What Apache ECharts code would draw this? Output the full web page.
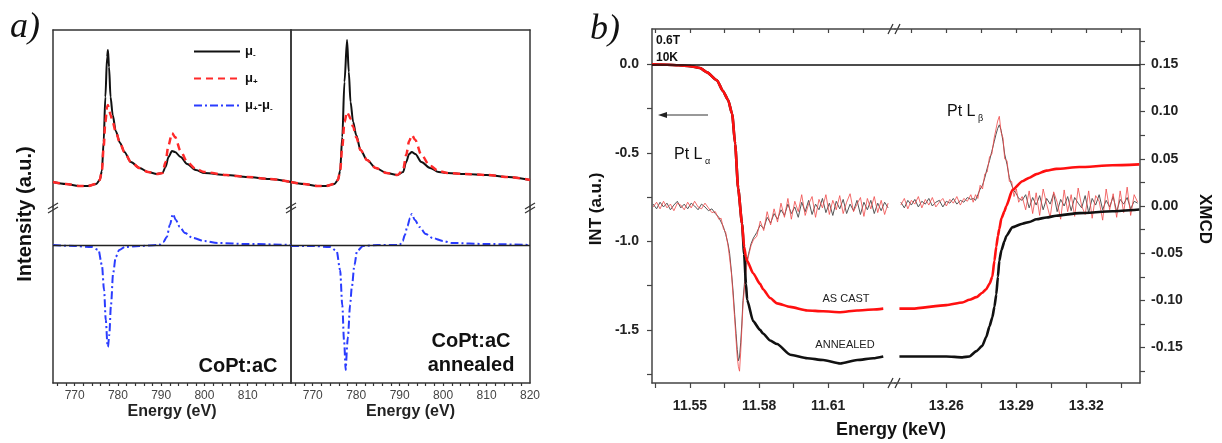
<!DOCTYPE html>
<html><head><meta charset="utf-8">
<script src="https://cdn.jsdelivr.net/npm/echarts@6/dist/echarts.min.js"></script>
<style>html,body{margin:0;padding:0;background:#fff}#c{width:1222px;height:443px}</style>
</head><body><div id="c"></div>
<script>
// ---------- Panel a) data (Co L-edge, intensity a.u.) ----------
const aEnergyL = [765,768,771,773,775,775.8,776.3,776.7,777.1,777.5,777.7,777.95,778.3,778.8,779.5,780.5,781.5,783,785,787,789,790.3,791,791.7,792.5,793.2,794.5,796,798,800,805,810,815,820];
const muMinusL = [0.25,0.23,0.21,0.21,0.23,0.27,0.36,0.65,1.1,1.5,1.57,1.4,1.1,0.92,0.76,0.64,0.55,0.45,0.39,0.35,0.33,0.34,0.4,0.5,0.56,0.55,0.5,0.43,0.37,0.34,0.32,0.3,0.28,0.25];
const muPlusL  = [0.25,0.23,0.21,0.21,0.23,0.27,0.36,0.6,0.85,1.0,1.02,0.98,0.92,0.85,0.75,0.64,0.55,0.45,0.39,0.35,0.33,0.34,0.45,0.62,0.74,0.7,0.56,0.45,0.38,0.35,0.32,0.3,0.28,0.25];
const aEnergyR = [765,768,771,773,775,775.8,776.3,776.8,777.3,777.9,778.3,778.7,779.3,780,781,782.5,784.5,787,789.5,790.8,791.5,792.2,792.8,793.6,795,797,799,801,805,810,815,820];
const muMinusR = [0.25,0.23,0.21,0.21,0.23,0.27,0.36,0.7,1.25,1.67,1.35,1.05,0.85,0.72,0.57,0.47,0.39,0.34,0.32,0.35,0.45,0.53,0.55,0.53,0.45,0.39,0.35,0.34,0.33,0.32,0.3,0.27];
const muPlusR  = [0.25,0.23,0.21,0.21,0.23,0.27,0.36,0.6,0.85,0.95,0.92,0.88,0.8,0.7,0.57,0.47,0.39,0.34,0.32,0.37,0.52,0.66,0.72,0.67,0.52,0.41,0.36,0.34,0.33,0.32,0.3,0.27];
const dEnergyL = [765,770,774,775.5,776.3,776.8,777.2,777.6,777.7,778,778.4,778.9,779.5,780.3,781.6,785,789.5,790.5,791.3,792,792.7,793.4,794.3,795.5,797.3,800,803,810,820];
const diffL    = [0,-0.01,-0.02,-0.05,-0.2,-0.45,-0.75,-1.0,-1.02,-0.9,-0.6,-0.28,-0.12,-0.05,-0.02,-0.01,0,0.03,0.08,0.2,0.31,0.25,0.18,0.12,0.07,0.04,0.02,0.01,0];
const dEnergyR = [765,770,774,775.5,776.3,776.8,777.2,777.6,777.7,778.1,778.6,779,779.6,780.2,781.6,785,790,790.7,791.2,791.8,792.4,792.8,793.5,794.6,796,797.6,800,802,810,820];
const diffR    = [-0.01,-0.01,-0.02,-0.06,-0.25,-0.6,-0.95,-1.25,-1.25,-0.92,-0.6,-0.42,-0.2,-0.06,-0.01,0,0,0.04,0.1,0.19,0.27,0.31,0.25,0.18,0.11,0.07,0.04,0.02,0.01,0];
const aTicks = [766,768,770,772,774,776,778,780,782,784,786,788,790,792,794,796,798,800,802,804,806,808,810,812,814,816,818];
const aLabelsL = [770,780,790,800,810];
const aLabelsR = [770,780,790,800,810,820];

// ---------- Panel b) data (Pt L edges) ----------
const intEnergyL   = [11.5335,11.54,11.545,11.55,11.5543,11.5574,11.5617,11.5643,11.5665,11.5683,11.5696,11.5709,11.5726,11.5735,11.5743,11.5748,11.5774,11.5804,11.5817,11.5848,11.5878,11.5935,11.6009,11.6078,11.6152,11.6226,11.6296,11.6339];
const intAnnealedL = [0,-0.002,-0.005,-0.01,-0.02,-0.045,-0.09,-0.15,-0.2,-0.28,-0.45,-0.7,-0.9,-1.07,-1.24,-1.33,-1.45,-1.5,-1.52,-1.56,-1.58,-1.64,-1.66,-1.67,-1.69,-1.67,-1.66,-1.65];
const intAsCastL   = [0,-0.002,-0.005,-0.01,-0.02,-0.045,-0.09,-0.15,-0.2,-0.28,-0.45,-0.7,-0.9,-1.03,-1.09,-1.11,-1.18,-1.24,-1.27,-1.32,-1.35,-1.37,-1.39,-1.395,-1.4,-1.39,-1.385,-1.38];
const intEnergyR   = [13.2399,13.2454,13.26,13.2669,13.2699,13.2729,13.2754,13.2771,13.2785,13.2797,13.2806,13.2814,13.2821,13.2827,13.2836,13.2849,13.2857,13.2883,13.2926,13.2956,13.2986,13.3029,13.3071,13.317,13.3312,13.3427];
const intAsCastR   = [-1.38,-1.38,-1.36,-1.345,-1.33,-1.315,-1.29,-1.27,-1.24,-1.2,-1.11,-1.03,-0.97,-0.93,-0.87,-0.83,-0.8,-0.71,-0.66,-0.64,-0.62,-0.6,-0.59,-0.58,-0.57,-0.565];
const intAnnealedR = [-1.65,-1.65,-1.65,-1.655,-1.65,-1.62,-1.59,-1.54,-1.48,-1.43,-1.37,-1.3,-1.2,-1.11,-1.05,-1.0,-0.97,-0.92,-0.9,-0.89,-0.875,-0.865,-0.855,-0.84,-0.83,-0.82];

const xmcdEnergyL = [11.534,11.5355,11.537,11.5385,11.54,11.5415,11.543,11.5445,11.546,11.5475,11.549,11.5505,11.552,11.5535,11.555,11.5565,11.558,11.5595,11.561,11.5625,
  11.5635,11.5645,11.5655,11.5665,11.5672,11.568,11.5687,11.5694,11.57,11.5705,11.571,11.5715,11.572,11.5725,11.573,11.5737,11.5745,11.5755,11.5765,11.5775,
  11.579,11.5805,11.582,11.5835,11.585,11.5865,11.588,11.5895,11.591,11.5925,11.594,11.5955,11.597,11.5985,11.6,11.6015,11.603,11.6045,11.606,11.6075,11.609,11.6105,11.612,11.6135,11.615,11.6165,11.618,11.6195,11.621,11.6225,11.624,11.6255,11.627,11.6285,11.63,11.6315,11.633,11.6345,11.636];
const xmcdAnnealedL = [0.002,-0.003,0.004,-0.001,0.003,-0.004,0.001,0.005,-0.002,0.002,-0.003,0.003,0.000,-0.004,0.002,-0.001,-0.005,-0.003,-0.008,-0.012,
  -0.017,-0.022,-0.03,-0.04,-0.05,-0.07,-0.09,-0.115,-0.135,-0.152,-0.164,-0.16,-0.145,-0.125,-0.1,-0.08,-0.06,-0.05,-0.04,-0.034,
  -0.028,-0.02,-0.024,-0.012,-0.018,-0.008,-0.014,-0.004,-0.01,0.002,-0.008,-0.001,-0.012,0.004,-0.006,0.006,-0.009,0.002,-0.004,0.008,-0.007,0.003,-0.01,0.005,-0.003,0.007,-0.008,0.002,-0.005,0.006,-0.009,0.004,-0.004,0.006,-0.008,0.003,-0.005,0.004,-0.002];
const xmcdAsCastL = [-0.001,0.004,-0.003,0.005,-0.002,0.002,-0.005,0.003,0.001,-0.004,0.004,-0.002,0.005,-0.001,-0.003,0.003,-0.002,-0.007,-0.006,-0.014,
  -0.013,-0.024,-0.028,-0.042,-0.055,-0.072,-0.095,-0.12,-0.142,-0.16,-0.17,-0.175,-0.155,-0.13,-0.105,-0.085,-0.065,-0.052,-0.042,-0.036,
  -0.032,-0.016,-0.026,-0.006,-0.02,-0.003,-0.017,0.003,-0.012,0.008,-0.014,0.005,-0.006,0.012,-0.01,0.002,0.01,-0.012,0.007,-0.002,0.012,-0.009,0.006,-0.004,0.011,-0.008,0.004,0.013,-0.006,0.002,0.009,-0.011,0.008,-0.003,0.01,-0.007,0.006,-0.009,0.003];
const xmcdEnergyR = [13.2405,13.242,13.2435,13.245,13.2465,13.248,13.2495,13.251,13.2525,13.254,13.2555,13.257,13.2585,13.26,13.2615,13.263,13.2645,13.266,13.2675,13.269,13.2705,
  13.2715,13.2725,13.2735,13.2745,13.2755,13.2765,13.2775,13.2785,13.2795,13.2805,13.2813,13.282,13.2827,13.2835,13.2843,13.285,13.286,13.287,13.288,13.289,13.29,13.291,
  13.2925,13.294,13.2955,13.297,13.2985,13.3,13.3015,13.303,13.3045,13.306,13.3075,13.309,13.3105,13.312,13.3135,13.315,13.3165,13.318,13.3195,13.321,13.3225,13.324,13.3255,13.327,13.3285,13.33,13.3315,13.333,13.3345,13.336,13.3375,13.339,13.3405,13.342];
const xmcdAnnealedR = [0.004,-0.002,0.006,0.001,0.007,-0.001,0.005,0.002,0.008,0.000,0.004,0.006,-0.001,0.005,0.003,0.008,0.002,0.006,0.004,0.009,0.007,
  0.008,0.006,0.012,0.018,0.022,0.03,0.04,0.048,0.058,0.068,0.076,0.082,0.086,0.08,0.068,0.055,0.044,0.03,0.022,0.016,0.013,0.008,
  0.006,0.012,-0.002,0.009,0.001,0.011,-0.004,0.008,0.002,0.013,-0.006,0.007,0.000,0.01,-0.005,0.009,0.003,-0.002,0.011,-0.007,0.008,0.001,0.012,-0.004,0.006,-0.001,0.01,-0.006,0.007,0.002,0.009,-0.003,0.005,0.003];
const xmcdAsCastR = [0.001,0.008,-0.003,0.006,0.002,0.01,-0.002,0.007,0.001,0.009,-0.001,0.004,0.008,0.000,0.007,0.003,0.01,0.001,0.008,0.005,0.012,
  0.004,0.012,0.008,0.022,0.018,0.034,0.036,0.052,0.055,0.072,0.074,0.09,0.095,0.078,0.072,0.05,0.048,0.026,0.026,0.01,0.018,0.004,
  0.01,-0.004,0.016,-0.008,0.014,-0.01,0.018,0.002,-0.012,0.015,0.004,-0.014,0.017,-0.006,0.012,-0.011,0.019,0.000,-0.009,0.016,-0.013,0.011,0.005,-0.015,0.018,-0.004,0.013,-0.012,0.016,-0.007,0.02,-0.01,0.012,0.004];

const bTicksL = [11.535,11.55,11.565,11.58,11.595,11.61,11.625];
const bLabelsL = [11.55,11.58,11.61];
const bTicksR = [13.245,13.26,13.275,13.29,13.305,13.32,13.335];
const bLabelsR = [13.26,13.29,13.32];
const intTicks = [0,-0.25,-0.5,-0.75,-1,-1.25,-1.5,-1.75];
const intLabels = [0,-0.5,-1,-1.5];
const xmcdTicks = [0.175,0.15,0.125,0.1,0.075,0.05,0.025,0,-0.025,-0.05,-0.075,-0.1,-0.125,-0.15,-0.175];
const xmcdLabels = [0.15,0.1,0.05,0,-0.05,-0.1,-0.15];

// ---------- build ----------
const FF = '"Liberation Sans", Arial, sans-serif';
const pairs = (xs, ys) => xs.map((x, i) => [x, ys[i]]);
const frameA = {show: true, onZero: false, lineStyle: {color: '#333', width: 1.5}};
const frameB = {show: true, onZero: false, lineStyle: {color: '#444', width: 1.5}};
const none = {show: false};

const grids = [
  {left: 53, top: 30, width: 238, height: 177},
  {left: 53, top: 207, width: 238, height: 176},
  {left: 291, top: 30, width: 239, height: 177},
  {left: 291, top: 207, width: 239, height: 176},
  {left: 652, top: 29, width: 243, height: 354},
  {left: 895, top: 29, width: 245, height: 354}
];

function aTopX(gi) {
  return {gridIndex: gi, type: 'value', min: 765, max: 820, position: 'top', axisLine: frameA, axisTick: none, axisLabel: none, splitLine: none};
}
function aBotX(gi, labels) {
  return {gridIndex: gi, type: 'value', min: 765, max: 820, position: 'bottom', axisLine: frameA,
    axisTick: {show: true, customValues: aTicks, length: 3, lineStyle: {color: '#333', width: 1.2}},
    axisLabel: {customValues: labels, fontSize: 12, color: '#444', margin: 7, fontFamily: FF},
    splitLine: none, name: 'Energy (eV)', nameLocation: 'middle', nameGap: 21,
    nameTextStyle: {fontWeight: 'bold', fontSize: 16, color: '#222', fontFamily: FF}};
}
function yFrame(gi, min, max, pos) {
  return {gridIndex: gi, type: 'value', min: min, max: max, position: pos, axisLine: frameA, axisTick: none, axisLabel: none, splitLine: none};
}
function bX(gi, min, max, pos, ticks, labels) {
  const o = {gridIndex: gi, type: 'value', min: min, max: max, position: pos, axisLine: frameB, splitLine: none,
    axisTick: {show: true, customValues: ticks, length: pos === 'top' ? 4 : 5, inside: pos === 'top', lineStyle: {color: '#444', width: 1.2}}};
  if (pos === 'top') o.axisLabel = {show: false, customValues: ticks};
  else o.axisLabel = {customValues: labels, formatter: v => v.toFixed(2), fontWeight: 'bold', fontSize: 14, color: '#222', margin: 16, fontFamily: FF};
  return o;
}

const xAxes = [
  aTopX(0), aBotX(1, aLabelsL), aTopX(2), aBotX(3, aLabelsR),
  bX(4, 11.5335, 11.639, 'bottom', bTicksL, bLabelsL),
  bX(4, 11.5335, 11.639, 'top', bTicksL, null),
  bX(5, 13.238, 13.343, 'bottom', bTicksR, bLabelsR),
  bX(5, 13.238, 13.343, 'top', bTicksR, null)
];
const yAxes = [
  yFrame(0, 0, 1.77, 'left'), yFrame(0, 0, 1.77, 'right'),
  yFrame(1, -1.38, 0.38, 'left'), yFrame(1, -1.38, 0.38, 'right'),
  yFrame(2, 0, 1.77, 'left'), yFrame(2, 0, 1.77, 'right'),
  yFrame(3, -1.38, 0.38, 'left'), yFrame(3, -1.38, 0.38, 'right'),
  {gridIndex: 4, type: 'value', min: -1.8, max: 0.2, position: 'left', axisLine: frameB, splitLine: none,
    axisTick: {show: true, customValues: intTicks, length: 5, lineStyle: {color: '#444', width: 1.2}},
    axisLabel: {customValues: intLabels, formatter: v => v.toFixed(1), fontWeight: 'bold', fontSize: 14, color: '#222', margin: 13, fontFamily: FF}},
  {gridIndex: 4, type: 'value', min: -0.1875, max: 0.1875, position: 'right', show: false},
  {gridIndex: 5, type: 'value', min: -1.8, max: 0.2, position: 'left', show: false},
  {gridIndex: 5, type: 'value', min: -0.1875, max: 0.1875, position: 'right', axisLine: frameB, splitLine: none,
    axisTick: {show: true, customValues: xmcdTicks, length: 5, lineStyle: {color: '#444', width: 1.2}},
    axisLabel: {customValues: xmcdLabels, formatter: v => v.toFixed(2), fontWeight: 'bold', fontSize: 14, color: '#222', margin: 11, fontFamily: FF}}
];

const lineBase = {type: 'line', showSymbol: false, symbol: 'none', animation: false, silent: true};
function spec(name, xi, yi, xs, ys, style, smooth) {
  return Object.assign({}, lineBase, {name: name, xAxisIndex: xi, yAxisIndex: yi, data: pairs(xs, ys), smooth: smooth,
    lineStyle: style, itemStyle: {color: style.color}});
}
const blackA = {color: '#111', width: 2};
const redA = {color: '#ff2a2a', width: 2.5, type: [7, 5]};
const blueA = {color: '#2a3cff', width: 2, type: [8, 3, 2, 3]};
const zeroA = {silent: true, symbol: ['none', 'none'], label: {show: false}, lineStyle: {color: '#222', width: 1.3, type: 'solid'}, data: [{yAxis: 0}]};
const zeroB = {silent: true, symbol: ['none', 'none'], label: {show: false}, lineStyle: {color: '#111', width: 1.5, type: 'solid'}, data: [{yAxis: 0}]};

const series = [
  spec('μ-', 0, 0, aEnergyL, muMinusL, blackA, 0.3),
  spec('μ+', 0, 0, aEnergyL, muPlusL, redA, 0.3),
  Object.assign(spec('μ+-μ-', 1, 2, dEnergyL, diffL, blueA, 0.3), {markLine: zeroA}),
  spec('μ-', 2, 4, aEnergyR, muMinusR, blackA, 0.3),
  spec('μ+', 2, 4, aEnergyR, muPlusR, redA, 0.3),
  Object.assign(spec('μ+-μ-', 3, 6, dEnergyR, diffR, blueA, 0.3), {markLine: zeroA}),
  spec('xmcd annealed L', 4, 9, xmcdEnergyL, xmcdAnnealedL, {color: '#555', width: 1}, false),
  spec('xmcd as cast L', 4, 9, xmcdEnergyL, xmcdAsCastL, {color: '#f04848', width: 1, opacity: 0.8}, false),
  spec('int annealed L', 4, 8, intEnergyL, intAnnealedL, {color: '#111', width: 2.6}, 0.2),
  Object.assign(spec('int as cast L', 4, 8, intEnergyL, intAsCastL, {color: '#ff1010', width: 2.6}, 0.2), {markLine: zeroB}),
  spec('xmcd annealed R', 6, 11, xmcdEnergyR, xmcdAnnealedR, {color: '#555', width: 1}, false),
  spec('xmcd as cast R', 6, 11, xmcdEnergyR, xmcdAsCastR, {color: '#f04848', width: 1, opacity: 0.8}, false),
  spec('int annealed R', 6, 10, intEnergyR, intAnnealedR, {color: '#111', width: 2.6}, 0.2),
  Object.assign(spec('int as cast R', 6, 10, intEnergyR, intAsCastR, {color: '#ff1010', width: 2.6}, 0.2), {markLine: zeroB})
];
series.forEach(s => { if (s.smooth) s.smoothMonotone = 'x'; });

const legendText = {'μ-': '{m|μ}{s|-}', 'μ+': '{m|μ}{s|+}', 'μ+-μ-': '{m|μ}{s|+}{m|-μ}{s|-}'};

function t(x, y, text, font, opts) {
  return Object.assign({type: 'text', x: x, y: y, silent: true, style: Object.assign({text: text, font: font, fill: '#111', align: 'center', verticalAlign: 'middle'}, opts || {})});
}
function seg(x1, y1, x2, y2, w) {
  return {type: 'line', silent: true, shape: {x1: x1, y1: y1, x2: x2, y2: y2}, style: {stroke: '#333', lineWidth: w || 1.2}};
}
const graphics = [
  t(25, 28, 'a)', 'italic 36px "Liberation Serif", serif'),
  Object.assign(t(25, 214, 'Intensity (a.u.)', 'bold 20px ' + FF), {rotation: Math.PI / 2}),
  t(238, 366, 'CoPt:aC', 'bold 20px ' + FF),
  t(471, 341, 'CoPt:aC', 'bold 20px ' + FF),
  t(471, 365, 'annealed', 'bold 20px ' + FF),
  seg(48, 209, 58, 203), seg(48, 213, 58, 207),
  seg(286, 209, 296, 203), seg(286, 213, 296, 207),
  seg(525, 209, 535, 203), seg(525, 213, 535, 207),
  t(605, 30, 'b)', 'italic 36px "Liberation Serif", serif'),
  Object.assign(t(596, 209, 'INT (a.u.)', 'bold 17px ' + FF), {rotation: Math.PI / 2}),
  Object.assign(t(1205, 219, 'XMCD', 'bold 17px ' + FF), {rotation: -Math.PI / 2}),
  t(891, 430, 'Energy (keV)', 'bold 18px ' + FF),
  t(656, 41, '0.6T', 'bold 12px ' + FF, {align: 'left'}),
  t(656, 58, '10K', 'bold 12px ' + FF, {align: 'left'}),
  seg(708, 115, 664, 115, 1),
  {type: 'polygon', silent: true, shape: {points: [[658, 115], [667, 112], [667, 118]]}, style: {fill: '#222'}},
  t(674, 155, 'Pt L', '16px ' + FF, {align: 'left'}),
  t(705, 162, 'α', '9px ' + FF, {align: 'left'}),
  t(947, 112, 'Pt L', '16px ' + FF, {align: 'left'}),
  t(978, 119, 'β', '9px ' + FF, {align: 'left'}),
  t(846, 299, 'AS CAST', '11px ' + FF, {fill: '#222'}),
  t(845, 345, 'ANNEALED', '11px ' + FF, {fill: '#222'}),
  seg(888, 34, 893, 24), seg(895, 34, 900, 24),
  seg(888, 388, 893, 378), seg(895, 388, 900, 378)
];

const chart = echarts.init(document.getElementById('c'), null, {renderer: 'canvas'});
chart.setOption({
  animation: false,
  backgroundColor: '#fff',
  textStyle: {fontFamily: FF},
  grid: grids,
  xAxis: xAxes,
  yAxis: yAxes,
  legend: {
    data: ['μ-', 'μ+', 'μ+-μ-'], orient: 'vertical', left: 188, top: 40,
    itemWidth: 46, itemHeight: 14, itemGap: 13, selectedMode: false,
    itemStyle: {opacity: 0},
    formatter: n => legendText[n],
    textStyle: {color: '#111', fontFamily: FF, rich: {
      m: {fontSize: 13, fontWeight: 'bold', fontFamily: FF, color: '#111'},
      s: {fontSize: 8, fontWeight: 'bold', fontFamily: FF, color: '#111', padding: [7, 0, 0, 0]}
    }}
  },
  series: series,
  graphic: graphics
});
</script>
</body></html>
